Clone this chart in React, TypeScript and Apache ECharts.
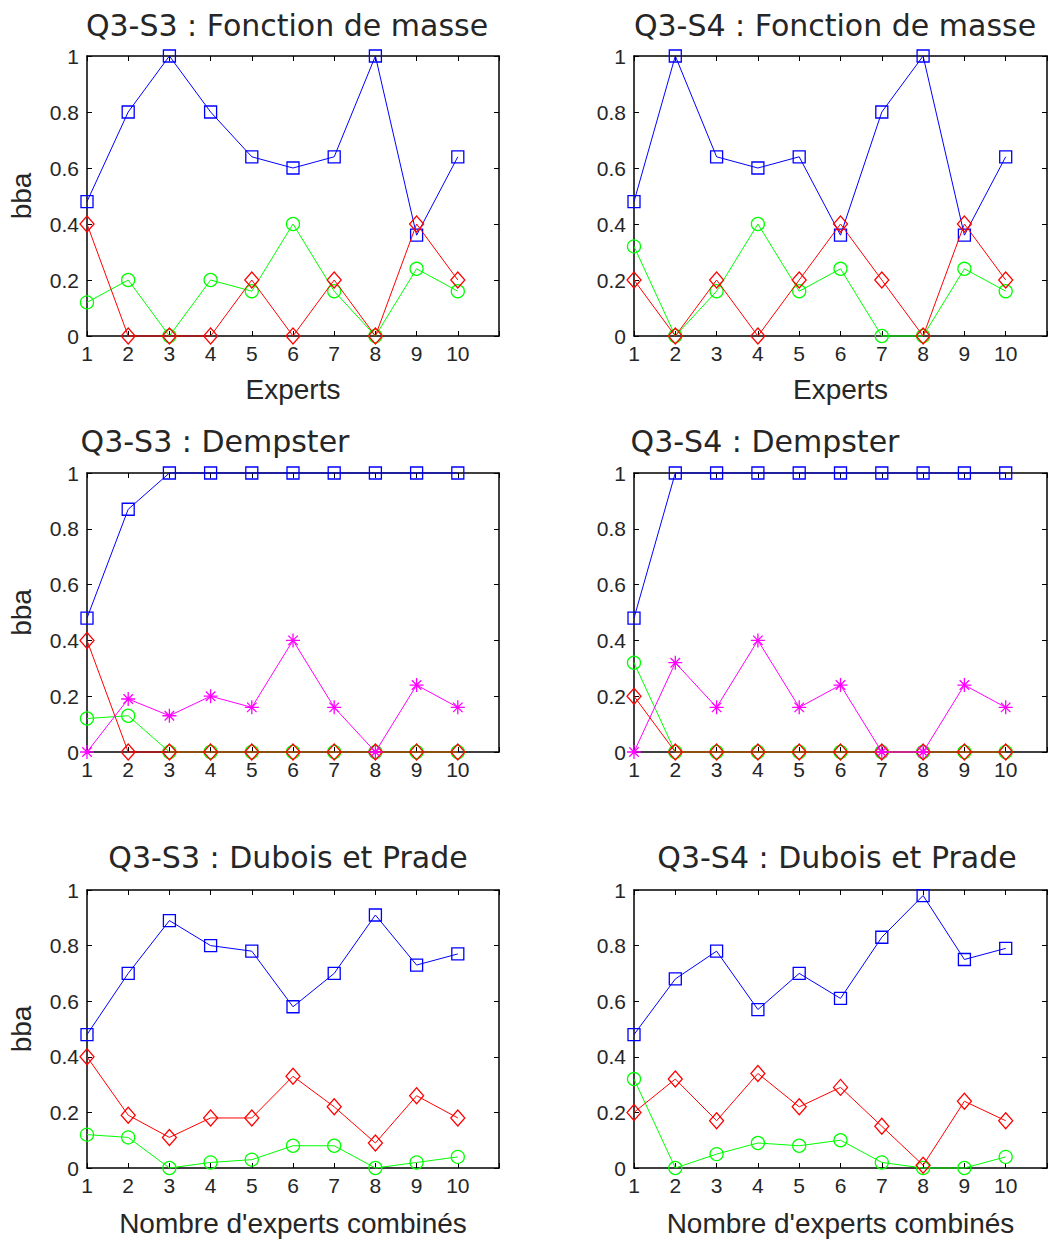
import React, { useEffect, useRef } from "react";
import * as echarts from "echarts";

// ---------- data ----------
const EXPERTS = [1, 2, 3, 4, 5, 6, 7, 8, 9, 10];

// Q3-S3 : Fonction de masse
const s3MasseBlue = [0.48, 0.8, 1.0, 0.8, 0.64, 0.6, 0.64, 1.0, 0.36, 0.64];
const s3MasseRed = [0.4, 0, 0, 0, 0.2, 0, 0.2, 0, 0.4, 0.2];
const s3MasseGreen = [0.12, 0.2, 0, 0.2, 0.16, 0.4, 0.16, 0, 0.24, 0.16];

// Q3-S4 : Fonction de masse
const s4MasseBlue = [0.48, 1.0, 0.64, 0.6, 0.64, 0.36, 0.8, 1.0, 0.36, 0.64];
const s4MasseRed = [0.2, 0, 0.2, 0, 0.2, 0.4, 0.2, 0, 0.4, 0.2];
const s4MasseGreen = [0.32, 0, 0.16, 0.4, 0.16, 0.24, 0, 0, 0.24, 0.16];

// Q3-S3 : Dempster
const s3DempBlue = [0.48, 0.87, 1, 1, 1, 1, 1, 1, 1, 1];
const s3DempRed = [0.4, 0, 0, 0, 0, 0, 0, 0, 0, 0];
const s3DempGreen = [0.12, 0.13, 0, 0, 0, 0, 0, 0, 0, 0];
const s3DempMagenta = [0, 0.19, 0.13, 0.2, 0.16, 0.4, 0.16, 0, 0.24, 0.16];

// Q3-S4 : Dempster
const s4DempBlue = [0.48, 1, 1, 1, 1, 1, 1, 1, 1, 1];
const s4DempRed = [0.2, 0, 0, 0, 0, 0, 0, 0, 0, 0];
const s4DempGreen = [0.32, 0, 0, 0, 0, 0, 0, 0, 0, 0];
const s4DempMagenta = [0, 0.32, 0.16, 0.4, 0.16, 0.24, 0, 0, 0.24, 0.16];

// Q3-S3 : Dubois et Prade
const s3DpBlue = [0.48, 0.7, 0.89, 0.8, 0.78, 0.58, 0.7, 0.91, 0.73, 0.77];
const s3DpRed = [0.4, 0.19, 0.11, 0.18, 0.18, 0.33, 0.22, 0.09, 0.26, 0.18];
const s3DpGreen = [0.12, 0.11, 0, 0.02, 0.03, 0.08, 0.08, 0, 0.02, 0.04];

// Q3-S4 : Dubois et Prade
const s4DpBlue = [0.48, 0.68, 0.78, 0.57, 0.7, 0.61, 0.83, 0.98, 0.75, 0.79];
const s4DpRed = [0.2, 0.32, 0.17, 0.34, 0.22, 0.29, 0.15, 0.01, 0.24, 0.17];
const s4DpGreen = [0.32, 0, 0.05, 0.09, 0.08, 0.1, 0.02, 0, 0, 0.04];

const TITLES = [
  "Q3-S3 : Fonction de masse",
  "Q3-S4 : Fonction de masse",
  "Q3-S3 : Dempster",
  "Q3-S4 : Dempster",
  "Q3-S3 : Dubois et Prade",
  "Q3-S4 : Dubois et Prade",
];
const X_LABELS = ["Experts", "Experts", "", "", "Nombre d'experts combinés", "Nombre d'experts combinés"];
const Y_LABELS = ["bba", "", "bba", "", "bba", ""];

const PANEL_SERIES = [
  { blue: s3MasseBlue, green: s3MasseGreen, red: s3MasseRed, magenta: null },
  { blue: s4MasseBlue, green: s4MasseGreen, red: s4MasseRed, magenta: null },
  { blue: s3DempBlue, green: s3DempGreen, red: s3DempRed, magenta: s3DempMagenta },
  { blue: s4DempBlue, green: s4DempGreen, red: s4DempRed, magenta: s4DempMagenta },
  { blue: s3DpBlue, green: s3DpGreen, red: s3DpRed, magenta: null },
  { blue: s4DpBlue, green: s4DpGreen, red: s4DpRed, magenta: null },
];

// ---------- layout / style ----------
const LAYOUT = [
  { left: 87, top: 56, width: 412, height: 280, tx: 287, ty: 25, gap: 39 },
  { left: 634, top: 56, width: 413, height: 280, tx: 835, ty: 25, gap: 39 },
  { left: 87, top: 473, width: 412, height: 279, tx: 215, ty: 441, gap: 39 },
  { left: 634, top: 473, width: 413, height: 279, tx: 765, ty: 441, gap: 39 },
  { left: 87, top: 890, width: 412, height: 278, tx: 288, ty: 857, gap: 41 },
  { left: 634, top: 890, width: 413, height: 278, tx: 837, ty: 857, gap: 41 },
];

const SANS = "'Liberation Sans', Arial, sans-serif";
const TITLE_FONT = "'DejaVu Sans', 'Liberation Sans', sans-serif";
const TEXT_COLOR = "#262626";
const ASTERISK = "path://M5,0L5,10M0,5L10,5M1.6,1.6L8.4,8.4M1.6,8.4L8.4,1.6";

const STYLES = {
  blue: { color: "#0000ff", symbol: "rect", size: 12 },
  green: { color: "#00ff00", symbol: "circle", size: 13 },
  red: { color: "#ff0000", symbol: "diamond", size: [14, 16] },
  magenta: { color: "#ff00ff", symbol: ASTERISK, size: 14 },
};

function buildOption() {
  const grid: any[] = [];
  const xAxis: any[] = [];
  const yAxis: any[] = [];
  const series: any[] = [];
  const graphic: any[] = [];

  const axisLine = { show: true, onZero: false, lineStyle: { color: "#000", width: 1.5 } };
  const axisTick = { show: true, inside: true, length: 5, lineStyle: { color: "#000", width: 1 } };

  LAYOUT.forEach((L, i) => {
    grid.push({ left: L.left, top: L.top, width: L.width, height: L.height, show: false });

    xAxis.push({
      type: "value",
      gridIndex: i,
      position: "bottom",
      min: 1,
      max: 11,
      interval: 1,
      axisLine,
      axisTick,
      splitLine: { show: false },
      axisLabel: {
        color: TEXT_COLOR,
        fontSize: 21,
        fontFamily: SANS,
        margin: 7,
        formatter: (v: number) => (v > 10 ? "" : String(v)),
      },
      name: X_LABELS[i],
      nameLocation: "middle",
      nameGap: L.gap,
      nameTextStyle: { color: TEXT_COLOR, fontSize: 28, fontFamily: SANS },
    });
    xAxis.push({
      type: "value",
      gridIndex: i,
      position: "top",
      min: 1,
      max: 11,
      interval: 1,
      axisLine,
      axisTick,
      splitLine: { show: false },
      axisLabel: { show: false },
    });

    yAxis.push({
      type: "value",
      gridIndex: i,
      position: "left",
      min: 0,
      max: 1,
      interval: 0.2,
      axisLine,
      axisTick,
      splitLine: { show: false },
      axisLabel: { color: TEXT_COLOR, fontSize: 21, fontFamily: SANS, margin: 8 },
      name: Y_LABELS[i],
      nameLocation: "middle",
      nameGap: 52,
      nameTextStyle: { color: TEXT_COLOR, fontSize: 28, fontFamily: SANS },
    });
    yAxis.push({
      type: "value",
      gridIndex: i,
      position: "right",
      min: 0,
      max: 1,
      interval: 0.2,
      axisLine,
      axisTick,
      splitLine: { show: false },
      axisLabel: { show: false },
    });

    const p: any = PANEL_SERIES[i];
    (["blue", "green", "red", "magenta"] as const).forEach((key, k) => {
      const vals = p[key];
      if (!vals) return;
      const st: any = (STYLES as any)[key];
      series.push({
        type: "line",
        xAxisIndex: 2 * i,
        yAxisIndex: 2 * i,
        data: EXPERTS.map((x, j) => [x, vals[j]]),
        symbol: st.symbol,
        symbolSize: st.size,
        showSymbol: true,
        showAllSymbol: true,
        clip: false,
        z: 2 + k,
        lineStyle: { color: st.color, width: 1 },
        itemStyle: { color: "rgba(0,0,0,0)", borderColor: st.color, borderWidth: 1.3 },
        emphasis: { disabled: true },
        silent: true,
      });
    });

    graphic.push({
      type: "text",
      x: L.tx,
      y: L.ty,
      style: {
        text: TITLES[i],
        font: `30px ${TITLE_FONT}`,
        fill: TEXT_COLOR,
        textAlign: "center",
        textVerticalAlign: "middle",
      },
    });
  });

  return {
    animation: false,
    backgroundColor: "#ffffff",
    grid,
    xAxis,
    yAxis,
    series,
    graphic,
  };
}

export default function App() {
  const ref = useRef<HTMLDivElement>(null);
  useEffect(() => {
    if (!ref.current) return;
    const chart = echarts.init(ref.current, null, { renderer: "svg" });
    chart.setOption(buildOption() as any);
    return () => chart.dispose();
  }, []);
  return (
    <div
      ref={ref}
      style={{ position: "absolute", left: 0, top: 0, width: 1057, height: 1241, background: "#fff" }}
    />
  );
}
